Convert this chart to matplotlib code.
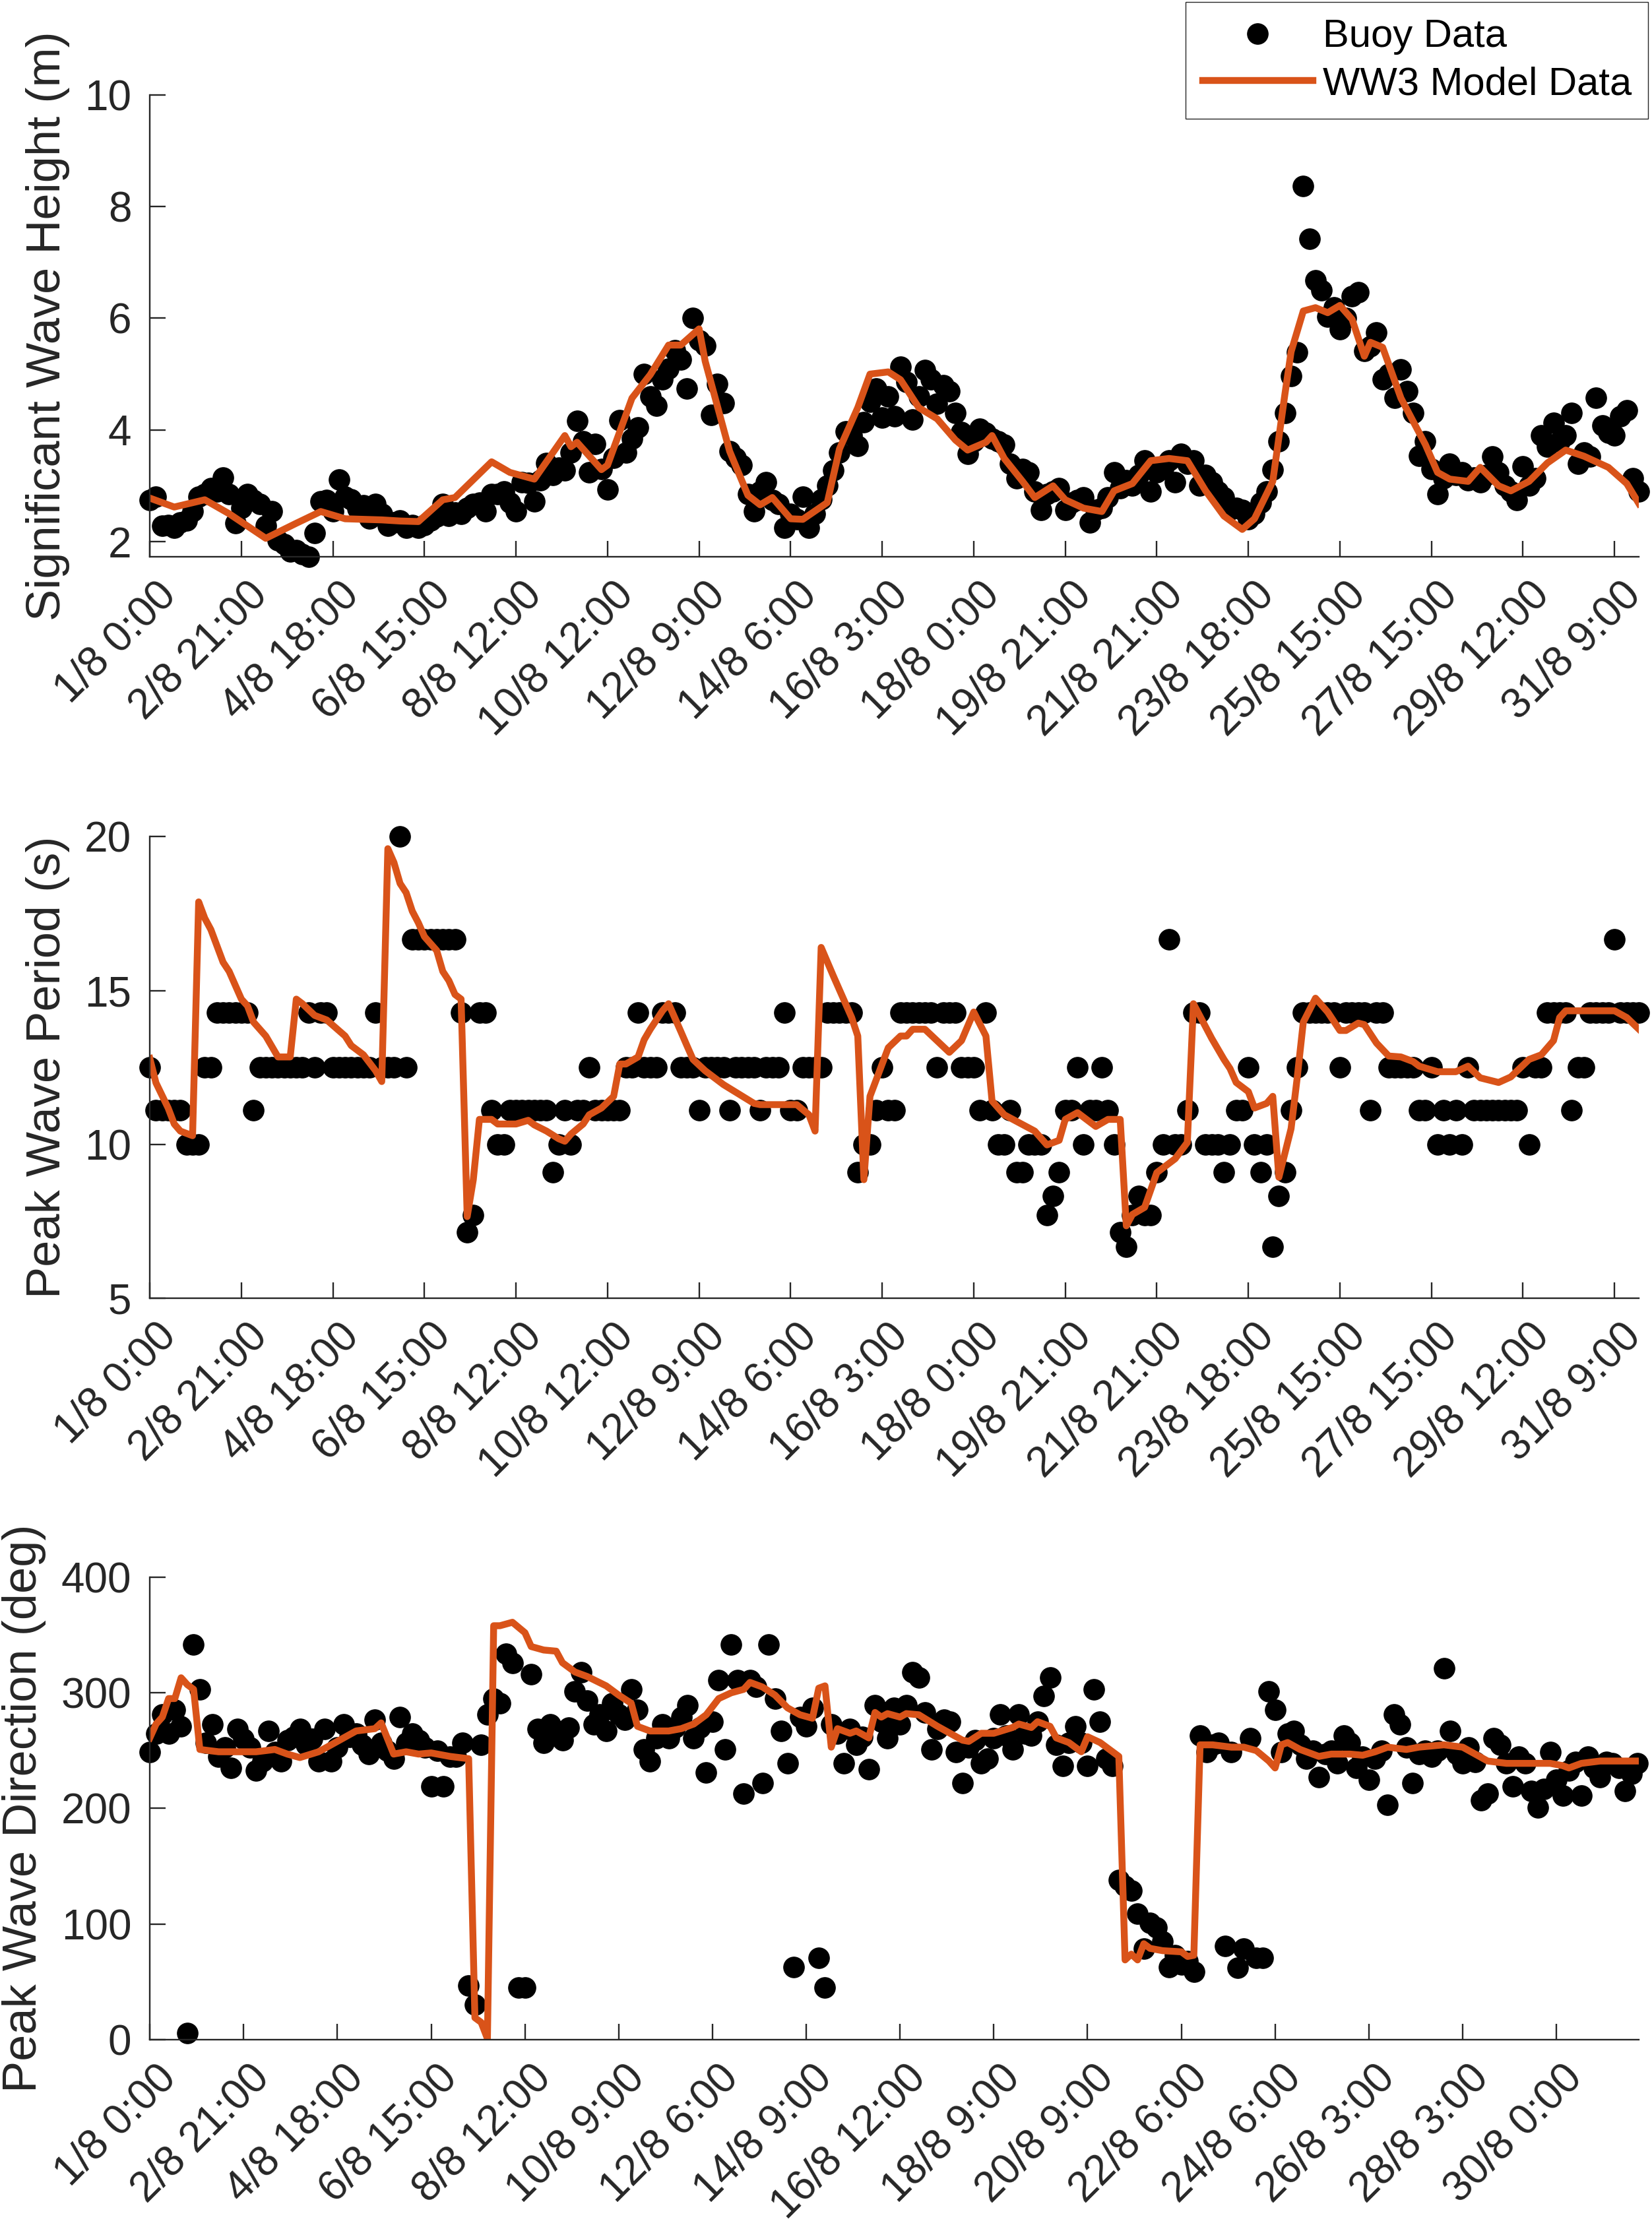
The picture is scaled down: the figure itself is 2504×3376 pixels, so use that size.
import numpy as np
import matplotlib.pyplot as plt
from matplotlib.transforms import ScaledTranslation

plt.rcParams['font.family'] = ['Liberation Sans', 'DejaVu Sans']

# tick labels (every 15 samples)
top_labels = ['1/8 0:00', '2/8 21:00', '4/8 18:00', '6/8 15:00', '8/8 12:00',
              '10/8 12:00', '12/8 9:00', '14/8 6:00', '16/8 3:00', '18/8 0:00',
              '19/8 21:00', '21/8 21:00', '23/8 18:00', '25/8 15:00',
              '27/8 15:00', '29/8 12:00', '31/8 9:00']
dir_labels = ['1/8 0:00', '2/8 21:00', '4/8 18:00', '6/8 15:00', '8/8 12:00',
              '10/8 9:00', '12/8 6:00', '14/8 9:00', '16/8 12:00', '18/8 9:00',
              '20/8 9:00', '22/8 6:00', '24/8 6:00', '26/8 3:00', '28/8 3:00',
              '30/8 0:00']

# significant wave height, buoy (one value per sample)
hs_buoy = [
    2.75, 2.8, 2.29, 2.3, 2.25, 2.35, 2.38, 2.55, 2.8, 2.85, 2.96, 2.9, 3.15, 2.85, 2.33,
    2.6, 2.85, 2.75, 2.68, 2.29, 2.55, 2.03, 1.95, 1.82, 1.85, 1.78, 1.73, 2.16, 2.72, 2.75,
    2.55, 3.11, 2.8, 2.76, 2.59, 2.65, 2.42, 2.68, 2.5, 2.29, 2.35, 2.38, 2.25, 2.3, 2.25,
    2.3, 2.38, 2.45, 2.68, 2.46, 2.52, 2.5, 2.6, 2.68, 2.7, 2.55, 2.85, 2.85, 2.9, 2.7,
    2.55, 3.07, 3.05, 2.72, 3.1, 3.41, 3.2, 3.32, 3.28, 3.6, 4.16, 3.8, 3.24, 3.75, 3.3,
    2.94, 3.5, 4.18, 3.6, 3.84, 4.05, 5.0, 4.6, 4.44, 4.91, 5.1, 5.43, 5.26, 4.74, 6.0,
    5.6, 5.51, 4.27, 4.83, 4.48, 3.62, 3.5, 3.37, 2.85, 2.55, 2.9, 3.07, 2.75, 2.68, 2.25,
    2.5, 2.4, 2.81, 2.25, 2.5, 2.76, 3.0, 3.28, 3.6, 3.97, 3.9, 3.71, 4.14, 4.5, 4.74,
    4.22, 4.6, 4.24, 5.13, 4.86, 4.19, 4.6, 5.07, 4.91, 4.47, 4.8, 4.69, 4.3, 3.96, 3.57,
    3.8, 4.02, 3.95, 3.85, 3.8, 3.74, 3.4, 3.13, 3.3, 3.24, 2.9, 2.57, 2.85, 2.9, 2.96,
    2.57, 2.7, 2.75, 2.79, 2.35, 2.57, 2.6, 2.79, 3.24, 2.96, 3.1, 3.01, 3.2, 3.46, 2.9,
    3.24, 3.3, 3.46, 3.07, 3.57, 3.4, 3.46, 3.01, 3.2, 3.07, 2.9, 2.79, 2.57, 2.6, 2.57,
    2.4, 2.5, 2.7, 2.9, 3.29, 3.8, 4.3, 4.97, 5.39, 8.37, 7.42, 6.68, 6.5, 6.03, 6.2,
    5.8, 6.0, 6.4, 6.47, 5.41, 5.5, 5.75, 4.91, 5.0, 4.58, 5.08, 4.7, 4.3, 3.54, 3.8,
    3.3, 2.85, 3.13, 3.4, 3.2, 3.24, 3.1, 3.15, 3.07, 3.2, 3.52, 3.24, 3.0, 2.9, 2.74,
    3.35, 3.0, 3.13, 3.9, 3.7, 4.13, 3.8, 3.9, 4.3, 3.4, 3.6, 3.52, 4.58, 4.08, 3.95,
    3.9, 4.24, 4.35, 3.13, 2.9]

# significant wave height, WW3 model (sample index, value)
hs_model_t = [0, 4, 9, 13, 19, 24, 28, 32, 38, 41, 44, 48, 50, 56, 59, 63, 68, 69, 70, 74,
              75, 79, 82, 85, 87, 90, 91, 95, 98, 100, 102, 105, 107, 111, 113, 116, 118,
              121, 123, 126, 129, 132, 134, 137, 138, 140, 143, 145, 148, 150, 153, 156,
              158, 161, 164, 167, 170, 173, 176, 179, 181, 184, 186, 187, 189, 191, 193,
              195, 197, 199, 200, 202, 205, 209, 211, 213, 216, 218, 221, 223, 226, 229,
              232, 235, 239, 242, 244]
hs_model = [2.78, 2.62, 2.75, 2.5, 2.06, 2.33, 2.54, 2.41, 2.39, 2.37, 2.36, 2.75, 2.79,
            3.43, 3.24, 3.12, 3.9, 3.7, 3.78, 3.29, 3.37, 4.57, 4.99, 5.52, 5.52, 5.81,
            5.23, 3.62, 2.83, 2.66, 2.79, 2.41, 2.4, 2.7, 3.66, 4.4, 5.0, 5.04, 4.9, 4.4,
            4.2, 3.82, 3.64, 3.78, 3.9, 3.49, 3.08, 2.79, 3.0, 2.75, 2.6, 2.54, 2.91, 3.04,
            3.45, 3.49, 3.45, 2.91, 2.46, 2.22, 2.41, 3.08, 4.65, 5.4, 6.13, 6.19, 6.1,
            6.23, 5.98, 5.32, 5.57, 5.48, 4.57, 3.74, 3.24, 3.12, 3.08, 3.33, 3.0, 2.91,
            3.08, 3.41, 3.64, 3.53, 3.33, 3.04, 2.68]

# peak wave period, buoy
tp_buoy = [
    12.5, 11.11, 11.11, 11.11, 11.11, 11.11, 10, 10, 10, 12.5, 12.5, 14.29, 14.29, 14.29, 14.29,
    14.29, 14.29, 11.11, 12.5, 12.5, 12.5, 12.5, 12.5, 12.5, 12.5, 12.5, 14.29, 12.5, 14.29, 14.29,
    12.5, 12.5, 12.5, 12.5, 12.5, 12.5, 12.5, 14.29, 12.5, 12.5, 12.5, 20, 12.5, 16.67, 16.67,
    16.67, 16.67, 16.67, 16.67, 16.67, 16.67, 14.29, 7.14, 7.69, 14.29, 14.29, 11.11, 10, 10, 11.11,
    11.11, 11.11, 11.11, 11.11, 11.11, 11.11, 9.09, 10, 11.11, 10, 11.11, 11.11, 12.5, 11.11, 11.11,
    11.11, 11.11, 11.11, 12.5, 12.5, 14.29, 12.5, 12.5, 12.5, 14.29, 14.29, 14.29, 12.5, 12.5, 12.5,
    11.11, 12.5, 12.5, 12.5, 12.5, 11.11, 12.5, 12.5, 12.5, 12.5, 11.11, 12.5, 12.5, 12.5, 14.29,
    11.11, 11.11, 12.5, 12.5, 12.5, 12.5, 14.29, 14.29, 14.29, 14.29, 14.29, 9.09, 10, 10, 11.11,
    12.5, 11.11, 11.11, 14.29, 14.29, 14.29, 14.29, 14.29, 14.29, 12.5, 14.29, 14.29, 14.29, 12.5, 12.5,
    12.5, 11.11, 14.29, 11.11, 10, 10, 11.11, 9.09, 9.09, 10, 10, 10, 7.69, 8.33, 9.09,
    11.11, 11.11, 12.5, 10, 11.11, 11.11, 12.5, 11.11, 10, 7.14, 6.67, 7.69, 8.33, 7.69, 7.69,
    9.09, 10, 16.67, 10, 10, 11.11, 14.29, 14.29, 10, 10, 10, 9.09, 10, 11.11, 11.11,
    12.5, 10, 9.09, 10, 6.67, 8.33, 9.09, 11.11, 12.5, 14.29, 14.29, 14.29, 14.29, 14.29, 14.29,
    12.5, 14.29, 14.29, 14.29, 14.29, 11.11, 14.29, 14.29, 12.5, 12.5, 12.5, 12.5, 12.5, 11.11, 11.11,
    12.5, 10, 11.11, 10, 11.11, 10, 12.5, 11.11, 11.11, 11.11, 11.11, 11.11, 11.11, 11.11, 11.11,
    12.5, 10, 12.5, 12.5, 14.29, 14.29, 14.29, 14.29, 11.11, 12.5, 12.5, 14.29, 14.29, 14.29, 14.29,
    16.67, 14.29, 14.29, 14.29, 14.29]

tp_model_t = [0, 1, 3, 4, 5, 7, 8, 9, 10, 12, 13, 15, 16, 17, 19, 21, 23, 24, 25, 27, 29,
              32, 33, 35, 37, 38, 39, 40, 41, 42, 43, 44, 45, 47, 48, 49, 50, 51, 52, 53,
              54, 56, 57, 60, 62, 63, 65, 67, 68, 69, 71, 72, 74, 76, 77, 78, 80, 81, 82,
              84, 85, 86, 87, 88, 89, 91, 94, 99, 100, 106, 108, 109, 110, 112, 114, 115,
              116, 117, 118, 120, 121, 123, 124, 125, 127, 131, 133, 135, 137, 138, 140,
              145, 147, 149, 150, 152, 154, 155, 157, 159, 160, 161, 163, 165, 168, 170,
              171, 173, 174, 176, 177, 178, 180, 181, 183, 184, 185, 187, 188, 189, 191,
              193, 195, 196, 198, 199, 201, 203, 205, 207, 208, 211, 214, 216, 218, 221,
              223, 226, 228, 230, 231, 232, 240, 242, 244]
tp_model = [12.79, 12.0, 11.18, 10.66, 10.43, 10.28, 17.88, 17.35, 16.98, 15.92, 15.62,
            14.72, 14.5, 13.97, 13.52, 12.84, 12.84, 14.72, 14.57, 14.19, 14.04, 13.52,
            13.21, 12.91, 12.39, 12.04, 19.61, 19.16, 18.48, 18.18, 17.58, 17.2, 16.75,
            16.3, 15.62, 15.32, 14.87, 14.72, 7.65, 8.85, 10.81, 10.81, 10.66, 10.66,
            10.78, 10.63, 10.43, 10.18, 10.1, 10.33, 10.66, 10.96, 11.18, 11.56, 12.61,
            12.61, 12.84, 13.4, 13.74, 14.34, 14.57, 14.12, 13.67, 13.21, 12.76, 12.39,
            11.94, 11.33, 11.29, 11.29, 10.96, 10.43, 16.4, 15.47, 14.57, 14.12, 13.52,
            8.85, 11.56, 12.61, 13.14, 13.52, 13.52, 13.74, 13.74, 12.99, 13.37, 14.3,
            13.52, 11.41, 10.96, 10.43, 9.98, 10.13, 10.81, 11.03, 10.73, 10.58, 10.81,
            10.81, 7.35, 7.72, 7.95, 9.08, 9.53, 10.06, 14.57, 13.82, 13.44, 12.76, 12.46,
            12.01, 11.71, 11.18, 11.33, 11.56, 8.93, 10.51, 12.16, 13.97, 14.75, 14.3,
            13.7, 13.7, 13.94, 13.89, 13.29, 12.87, 12.84, 12.69, 12.54, 12.36, 12.36,
            12.54, 12.16, 12.01, 12.19, 12.76, 12.91, 13.37, 14.12, 14.34, 14.34, 14.12,
            13.74]

# peak wave direction, buoy
dir_buoy = [
    249, 265, 281, 265, 285, 271, 6, 342, 303, 257, 273, 245, 253, 235, 269,
    260, 253, 233, 241, 267, 249, 241, 259, 262, 269, 255, 260, 241, 269, 241,
    253, 273, 262, 265, 255, 247, 277, 257, 250, 243, 279, 257, 265, 259, 253,
    219, 250, 219, 245, 245, 257, 47, 30, 255, 281, 295, 291, 334, 326, 45,
    45, 316, 269, 257, 273, 267, 259, 270, 301, 318, 293, 273, 281, 267, 291,
    281, 277, 303, 285, 251, 241, 261, 273, 261, 270, 279, 289, 261, 270, 231,
    275, 311, 251, 342, 311, 213, 311, 305, 222, 342, 295, 267, 239, 63, 279,
    271, 287, 71, 45, 273, 265, 239, 269, 255, 262, 234, 289, 275, 261, 287,
    273, 289, 318, 313, 283, 251, 269, 277, 275, 249, 222, 253, 259, 239, 243,
    261, 281, 263, 251, 281, 265, 263, 275, 297, 313, 255, 237, 257, 271, 257,
    237, 303, 275, 243, 237, 138, 133, 129, 109, 79, 101, 97, 85, 63, 73,
    65, 68, 59, 263, 249, 255, 257, 81, 249, 62, 79, 261, 71, 71, 301,
    285, 249, 265, 267, 255, 243, 250, 227, 247, 250, 239, 263, 257, 235, 245,
    225, 243, 250, 203, 281, 273, 253, 222, 247, 250, 245, 250, 321, 267, 247,
    239, 253, 240, 207, 213, 261, 255, 239, 219, 245, 239, 215, 201, 217, 249,
    225, 211, 233, 240, 211, 245, 235, 227, 240, 239, 235, 215, 230, 239]

dir_model_t = [0, 1, 2, 3, 4, 5, 6, 7, 8, 11, 17, 20, 22, 24, 27, 29, 31, 33, 36, 37, 39,
               41, 43, 45, 48, 51, 52, 53, 54, 55, 56, 58, 60, 61, 63, 65, 66, 68, 70, 73,
               75, 77, 78, 80, 83, 85, 87, 89, 91, 93, 95, 96, 98, 100, 102, 104, 106,
               107, 108, 109, 110, 112, 113, 115, 116, 117, 118, 120, 121, 123, 126, 128,
               130, 131, 133, 135, 138, 139, 141, 142, 144, 145, 147, 149, 150, 152, 155,
               156, 157, 158, 159, 160, 162, 165, 166, 167, 168, 170, 173, 175, 177, 179,
               180, 181, 182, 184, 187, 189, 192, 194, 196, 198, 201, 203, 207, 210, 212,
               214, 217, 220, 224, 226, 227, 229, 232, 236, 238]
dir_model = [261, 273, 279, 295, 295, 313, 307, 303, 251, 249, 249, 251, 247, 244, 249,
             255, 261, 267, 269, 274, 247, 249, 247, 248, 245, 243, 19, 15, 1, 358, 358,
             361, 352, 340, 337, 336, 326, 318, 314, 306, 298, 291, 271, 267, 267, 269,
             273, 281, 295, 300, 303, 309, 305, 298, 287, 281, 278, 304, 306, 253, 269,
             265, 267, 261, 283, 279, 282, 279, 282, 281, 271, 265, 259, 258, 265, 265,
             270, 273, 270, 275, 271, 261, 257, 249, 262, 257, 245, 69, 74, 69, 83, 79,
             77, 76, 72, 73, 255, 255, 253, 253, 250, 241, 235, 255, 257, 251, 245, 247,
             247, 246, 249, 253, 251, 253, 255, 253, 247, 241, 239, 239, 239, 237, 235,
             239, 241, 241, 241]

axis_col = '#262626'
model_col = '#D95319'

fig = plt.figure(figsize=(25.04, 33.76), dpi=100)

panels = [
    (hs_buoy, hs_model_t, hs_model, 'Significant Wave Height (m)', (1.73, 10), [2, 4, 6, 8, 10],
     top_labels, 244, [0.0907, 0.7500, 0.9014, 0.2074]),
    (tp_buoy, tp_model_t, tp_model, 'Peak Wave Period (s)', (5, 20), [5, 10, 15, 20],
     top_labels, 244, [0.0907, 0.4171, 0.9014, 0.2072]),
    (dir_buoy, dir_model_t, dir_model, 'Peak Wave Direction (deg)', (0, 400), [0, 100, 200, 300, 400],
     dir_labels, 238.2, [0.0907, 0.0841, 0.9014, 0.2077]),
]

# shift rotated date labels a bit to the right of their ticks
label_shift = ScaledTranslation(0.30, 0, fig.dpi_scale_trans)

handles = None
for buoy, mt, mv, ylab, ylim, yticks, xlabs, xmax, pos in panels:
    ax = fig.add_axes(pos)
    t = np.arange(len(buoy))
    h1, = ax.plot(t, buoy, 'o', color='k', ms=22.5, linestyle='none', clip_on=False)
    h2, = ax.plot(mt, mv, color=model_col, lw=7.5, solid_joinstyle='round')
    if handles is None:
        handles = [h1, h2]
    for s in ['top', 'right']:
        ax.spines[s].set_visible(False)
    for s in ['left', 'bottom']:
        ax.spines[s].set_color(axis_col)
        ax.spines[s].set_linewidth(1.7)
    ax.tick_params(direction='in', length=17, width=1.7, colors=axis_col, labelsize=46)
    ax.tick_params(axis='y', pad=20)
    ax.tick_params(axis='x', pad=35)
    ax.set_xlim(0, xmax)
    ax.set_ylim(*ylim)
    ax.set_yticks(yticks)
    ax.set_xticks(np.arange(len(xlabs)) * 15)
    ax.set_xticklabels(xlabs, rotation=45, ha='right', va='center', rotation_mode='anchor')
    for lbl in ax.get_xticklabels():
        lbl.set_transform(lbl.get_transform() + label_shift)
    ax.set_ylabel(ylab, fontsize=52, color=axis_col, labelpad=16)

fig.legend(handles, ['Buoy Data', 'WW3 Model Data'], loc='upper right',
           bbox_to_anchor=(0.9976, 0.999), fontsize=43, frameon=True, fancybox=False,
           edgecolor=axis_col, framealpha=1, handlelength=2.8, handletextpad=0.25,
           labelspacing=0.28, borderpad=0.42, borderaxespad=0)

fig.savefig('out.png', dpi=100)
